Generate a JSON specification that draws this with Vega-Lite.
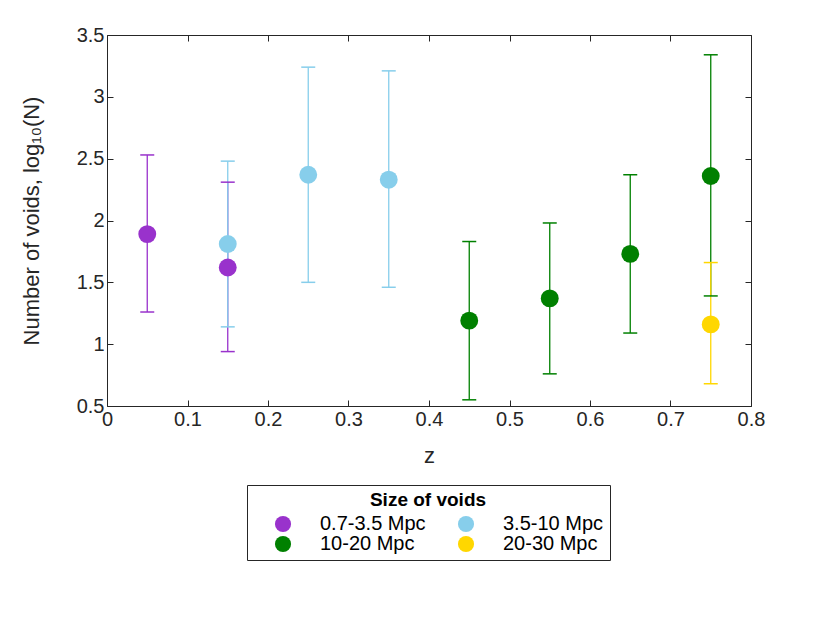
{
  "$schema": "https://vega.github.io/schema/vega-lite/v6.json",
  "autosize": {"type": "none"},
  "width": 644,
  "height": 371,
  "padding": {"left": 107, "top": 35, "right": 79, "bottom": 217},
  "background": "white",
  "config": {
    "font": "Liberation Sans",
    "view": {"stroke": "#262626", "strokeWidth": 1},
    "circle": {"opacity": 1},
    "tick": {"opacity": 1},
    "axis": {"labelColor": "#262626", "titleColor": "#262626", "domain": false, "grid": false, "tickColor": "#262626", "tickSize": -6, "labelFontSize": 20, "titleFontSize": 22, "titleFontWeight": "normal", "labelFlush": false, "labelExpr": "'' + datum.value"}
  },
  "data": {"values": [
    {"z": 0.05, "n": 1.89, "lo": 1.26, "hi": 2.53, "size": "0.7-3.5 Mpc"},
    {"z": 0.15, "n": 1.62, "lo": 0.94, "hi": 2.31, "size": "0.7-3.5 Mpc"},
    {"z": 0.15, "n": 1.81, "lo": 1.14, "hi": 2.48, "size": "3.5-10 Mpc"},
    {"z": 0.25, "n": 2.37, "lo": 1.50, "hi": 3.24, "size": "3.5-10 Mpc"},
    {"z": 0.35, "n": 2.33, "lo": 1.46, "hi": 3.21, "size": "3.5-10 Mpc"},
    {"z": 0.45, "n": 1.19, "lo": 0.55, "hi": 1.83, "size": "10-20 Mpc"},
    {"z": 0.55, "n": 1.37, "lo": 0.76, "hi": 1.98, "size": "10-20 Mpc"},
    {"z": 0.65, "n": 1.73, "lo": 1.09, "hi": 2.37, "size": "10-20 Mpc"},
    {"z": 0.75, "n": 2.36, "lo": 1.39, "hi": 3.34, "size": "10-20 Mpc"},
    {"z": 0.75, "n": 1.16, "lo": 0.68, "hi": 1.66, "size": "20-30 Mpc"}
  ]},
  "resolve": {"axis": {"x": "independent", "y": "independent"}},
  "layer": [
    {
      "mark": {"type": "rule", "strokeWidth": 1.3},
      "encoding": {
        "x": {"field": "z", "type": "quantitative", "scale": {"domain": [0, 0.8], "nice": false}, "axis": {"orient": "bottom", "title": "z", "values": [0, 0.1, 0.2, 0.3, 0.4, 0.5, 0.6, 0.7, 0.8], "labelPadding": 9, "titlePadding": 16}},
        "y": {"field": "lo", "type": "quantitative", "scale": {"domain": [0.5, 3.5], "nice": false, "zero": false}, "axis": {"orient": "left", "title": "Number of voids, log₁₀(N)", "values": [0.5, 1, 1.5, 2, 2.5, 3, 3.5], "labelPadding": 9, "titlePadding": 33}},
        "y2": {"field": "hi"},
        "color": {"field": "size", "type": "nominal"}
      }
    },
    {
      "mark": {"type": "tick", "orient": "horizontal", "size": 14, "thickness": 1.5, "opacity": 1},
      "encoding": {
        "x": {"field": "z", "type": "quantitative", "axis": {"orient": "top", "labels": false, "title": null, "values": [0, 0.1, 0.2, 0.3, 0.4, 0.5, 0.6, 0.7, 0.8]}},
        "y": {"field": "hi", "type": "quantitative", "axis": {"orient": "right", "labels": false, "title": null, "values": [0.5, 1, 1.5, 2, 2.5, 3, 3.5]}},
        "color": {"field": "size", "type": "nominal"}
      }
    },
    {
      "mark": {"type": "tick", "orient": "horizontal", "size": 14, "thickness": 1.5, "opacity": 1},
      "encoding": {
        "x": {"field": "z", "type": "quantitative", "axis": null},
        "y": {"field": "lo", "type": "quantitative", "axis": null},
        "color": {"field": "size", "type": "nominal"}
      }
    },
    {
      "mark": {"type": "circle", "size": 320, "opacity": 1},
      "encoding": {
        "x": {"field": "z", "type": "quantitative", "axis": null},
        "y": {"field": "n", "type": "quantitative", "axis": null},
        "color": {"field": "size", "type": "nominal", "scale": {"domain": ["0.7-3.5 Mpc", "3.5-10 Mpc", "10-20 Mpc", "20-30 Mpc"], "range": ["#9932CC", "#87CEEB", "#008000", "#FFD700"]}, "legend": {
          "orient": "none", "legendX": 140, "legendY": 450, "direction": "horizontal", "columns": 2,
          "title": "Size of voids", "titleFontSize": 19, "titleFontWeight": "bold", "titleColor": "black", "titleAnchor": "middle", "titlePadding": 4,
          "labelFontSize": 20, "labelColor": "black", "labelOffset": 27, "symbolSize": 260, "symbolType": "circle", "symbolStrokeWidth": 0, "symbolOffset": 20,
          "columnPadding": 10, "rowPadding": 0, "padding": 6, "strokeColor": "#262626", "fillColor": "white", "symbolOpacity": 1
        }}
      }
    }
  ]
}
